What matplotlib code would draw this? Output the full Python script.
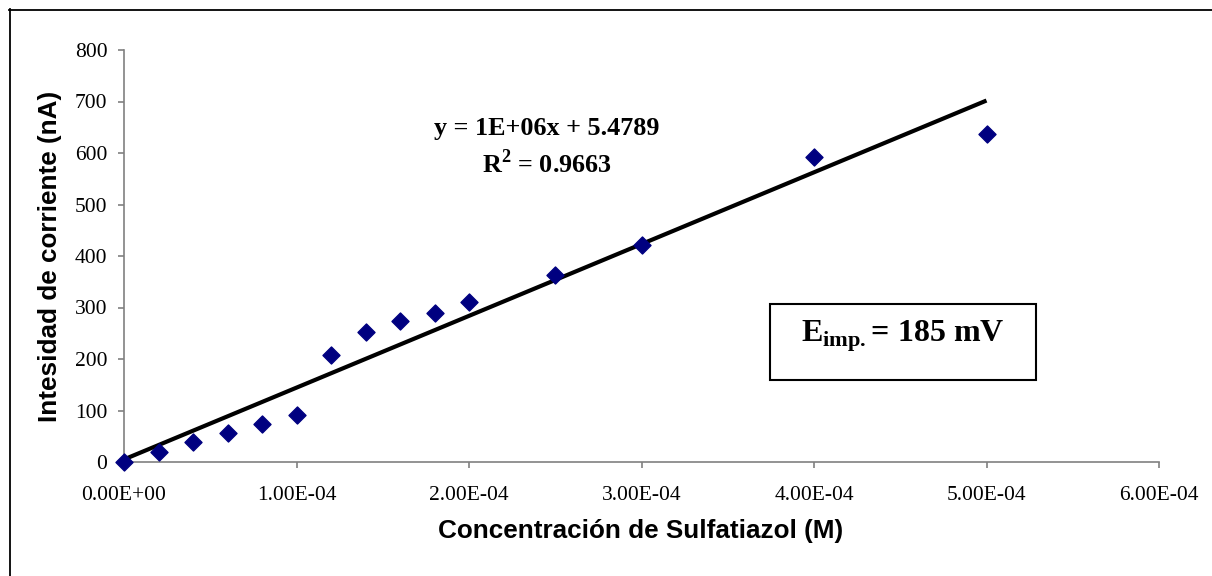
import numpy as np
import matplotlib.pyplot as plt
from matplotlib.patches import Rectangle
from matplotlib.lines import Line2D

# Sulfathiazole calibration data
concentration_M = [0.0, 2e-5, 4e-5, 6e-5, 8e-5, 1e-4, 1.2e-4, 1.4e-4, 1.6e-4,
                   1.8e-4, 2e-4, 2.5e-4, 3e-4, 4e-4, 5e-4]
current_nA = [0, 20, 39, 57, 74, 92, 208, 252, 273, 290, 310, 363, 421, 593, 637]

x_ticks = [0, 1e-4, 2e-4, 3e-4, 4e-4, 5e-4, 6e-4]
x_tick_labels = ["0.00E+00", "1.00E-04", "2.00E-04", "3.00E-04",
                 "4.00E-04", "5.00E-04", "6.00E-04"]
y_ticks = [0, 100, 200, 300, 400, 500, 600, 700, 800]

equation_text = "y = 1E+06x + 5.4789"
r2_text = r"R$^\mathbf{2}$ = 0.9663"
potential_text = r"E$_{\mathbf{imp.}}$= 185 mV"

plt.rcParams['mathtext.fontset'] = 'custom'
plt.rcParams['mathtext.rm'] = 'Liberation Serif'
plt.rcParams['mathtext.bf'] = 'Liberation Serif:bold'

W, H = 1212, 576
fig = plt.figure(figsize=(W / 100, H / 100), dpi=100)
ax = fig.add_axes([124 / W, 1 - 462 / H, (1159 - 124) / W, (462 - 50) / H])

x = np.array(concentration_M)
y = np.array(current_nA)

# Least-squares trend line
slope, intercept = np.polyfit(x, y, 1)
xl = np.array([0.0, 5e-4])
ax.plot(xl, slope * xl + intercept, color='black', lw=3.0, zorder=2,
        solid_capstyle='butt')

ax.scatter(x, y, marker='D', s=75, color='#000080', edgecolors='#000080',
           zorder=3, clip_on=False)

ax.set_xlim(0, 6e-4)
ax.set_ylim(0, 800)
ax.set_xticks(x_ticks)
ax.set_xticklabels(x_tick_labels)
ax.set_yticks(y_ticks)

for s in ('top', 'right'):
    ax.spines[s].set_visible(False)
for s in ('left', 'bottom'):
    ax.spines[s].set_color('#808080')
    ax.spines[s].set_linewidth(1.2)
ax.tick_params(axis='both', direction='out', length=4, width=1.2,
               color='#808080', labelsize=15.5)
for lab in ax.get_xticklabels() + ax.get_yticklabels():
    lab.set_fontfamily('Liberation Serif')
ax.tick_params(axis='x', pad=13)
ax.tick_params(axis='y', pad=8)

ax.set_xlabel("Concentración de Sulfatiazol (M)", fontfamily='Liberation Sans',
              fontweight='bold', fontsize=18.8)
ax.set_ylabel("Intesidad de corriente (nA)", fontfamily='Liberation Sans',
              fontweight='bold', fontsize=18.8)
ax.xaxis.set_label_coords((641 - 124) / (1159 - 124), -(531 - 462) / (462 - 50))
ax.xaxis.label.set_va('center')
ax.yaxis.set_label_coords(-(124 - 50) / (1159 - 124), (462 - 256) / (462 - 50))
ax.yaxis.label.set_va('center')

# Trend line equation
fig.text(547 / W, 1 - 129 / H, equation_text, ha='center', va='center',
         fontfamily='Liberation Serif', fontweight='bold', fontsize=18.8)
fig.text(547 / W, 1 - 164 / H, r2_text, ha='center', va='center',
         fontfamily='Liberation Serif', fontweight='bold', fontsize=18.8)

# Applied potential box
fig.patches.append(Rectangle((770 / W, 1 - 380 / H), (1036 - 770) / W, (380 - 304) / H,
                             transform=fig.transFigure, fill=False,
                             edgecolor='black', lw=1.5))
fig.text(903 / W, 1 - 336 / H, potential_text, ha='center', va='center',
         fontfamily='Liberation Serif', fontweight='bold', fontsize=23)

# Chart area frame (top and left edges within the canvas)
fig.lines.append(Line2D([9 / W, 1.0], [1 - 9.5 / H, 1 - 9.5 / H],
                        transform=fig.transFigure, color='black', lw=1.3))
fig.lines.append(Line2D([9.5 / W, 9.5 / W], [0.0, 1 - 9 / H],
                        transform=fig.transFigure, color='black', lw=1.3))

fig.savefig("out.png", dpi=100, facecolor='white')
